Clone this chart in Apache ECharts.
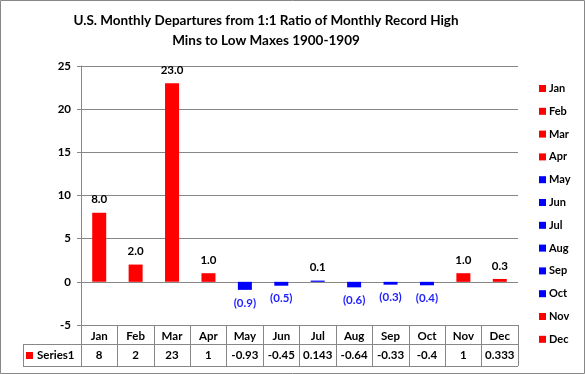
<!DOCTYPE html>
<html><head><meta charset="utf-8">
<script src="https://cdn.jsdelivr.net/npm/echarts@6/dist/echarts.min.js"></script>
<style>html,body{margin:0;padding:0;background:#fff}#c{width:585px;height:374px}</style>
</head><body><div id="c"></div>
<script>
const months = ['Jan','Feb','Mar','Apr','May','Jun','Jul','Aug','Sep','Oct','Nov','Dec'];
const values = [8, 2, 23, 1, -0.93, -0.45, 0.143, -0.64, -0.33, -0.4, 1, 0.333];
const barColors = ['#ff0000','#ff0000','#ff0000','#ff0000','#0000ff','#0000ff','#0000ff','#0000ff','#0000ff','#0000ff','#ff0000','#ff0000'];
const tableLabels = ['8','2','23','1','-0.93','-0.45','0.143','-0.64','-0.33','-0.4','1','0.333'];
const seriesName = 'Series1';
const yTicks = {min: -5, max: 25, interval: 5};
const titleText = 'U.S. Monthly Departures from 1:1 Ratio of Monthly Record High\nMins to Low Maxes 1900-1909';

const FONT = 'Lato';
const chart = echarts.init(document.getElementById('c'), null, {renderer: 'canvas'});
const GL = 81, GR = 518, GT = 66, GB = 325;
const series = months.map((m, k) => ({
  name: m,
  type: 'bar',
  barWidth: 14,
  barGap: '-100%',
  itemStyle: {color: barColors[k]},
  data: values.map((v, i) => i === k ? v : '-'),
  label: {
    show: true,
    position: values[k] < 0 ? 'bottom' : 'top',
    distance: 7,
    fontFamily: FONT, fontWeight: 'bold', fontSize: 11.5,
    color: values[k] < 0 ? '#1f1fff' : '#000',
    formatter: p => p.value < 0 ? '(' + Math.abs(p.value).toFixed(1) + ')' : p.value.toFixed(1)
  }
}));
chart.setOption({
  animation: false,
  title: {
    text: titleText, left: 261, top: 6, textAlign: 'center',
    textStyle: {fontFamily: FONT, fontWeight: 'bold', fontSize: 13.5, lineHeight: 20, color: '#000'}
  },
  legend: {
    orient: 'vertical', left: 534, top: 78, itemWidth: 7, itemHeight: 7, itemGap: 11.8,
    icon: 'rect',
    data: months,
    textStyle: {fontFamily: FONT, fontWeight: 'bold', fontSize: 11, color: '#000', padding: [0,0,0,-2]}
  },
  grid: {left: GL, right: 585 - GR, top: GT, bottom: 374 - GB},
  xAxis: [{
    type: 'category', data: months, position: 'bottom',
    axisLine: {onZero: false, lineStyle: {color: '#878787'}},
    axisTick: {show: true, length: 41, lineStyle: {color: '#878787'}},
    axisLabel: {fontFamily: FONT, fontWeight: 'bold', fontSize: 11.5, color: '#000', margin: 5, interval: 0}
  }, {
    type: 'category', data: tableLabels, position: 'bottom', offset: 19,
    axisLine: {show: false}, axisTick: {show: false},
    axisLabel: {fontFamily: FONT, fontWeight: 'bold', fontSize: 11.5, color: '#000', margin: 5, interval: 0}
  }],
  yAxis: {
    type: 'value', min: yTicks.min, max: yTicks.max, interval: yTicks.interval,
    axisLine: {show: true, lineStyle: {color: '#878787'}},
    axisTick: {show: true, inside: false, length: 4, lineStyle: {color: '#878787'}},
    splitLine: {lineStyle: {color: '#878787'}},
    axisLabel: {fontFamily: FONT, fontWeight: 'bold', fontSize: 11.5, color: '#000', margin: 10}
  },
  series: series,
  graphic: [
    {type: 'rect', shape: {x: 0.5, y: 0.5, width: 584, height: 373}, style: {fill: null, stroke: '#878787', lineWidth: 1}},
    {type: 'line', shape: {x1: 23, y1: 344.5, x2: GR, y2: 344.5}, style: {stroke: '#878787', lineWidth: 1}},
    {type: 'line', shape: {x1: 23, y1: 366.5, x2: GR, y2: 366.5}, style: {stroke: '#878787', lineWidth: 1}},
    {type: 'line', shape: {x1: 23.5, y1: 344, x2: 23.5, y2: 366}, style: {stroke: '#878787', lineWidth: 1}},
    {type: 'rect', shape: {x: 26, y: 352, width: 7, height: 7}, style: {fill: '#ff0000'}},
    {type: 'text', x: 37, y: 355.5, style: {text: seriesName, fontFamily: FONT, fontWeight: 'bold', fontSize: 11.5, fill: '#000', textVerticalAlign: 'middle'}}
  ]
});
</script></body></html>
